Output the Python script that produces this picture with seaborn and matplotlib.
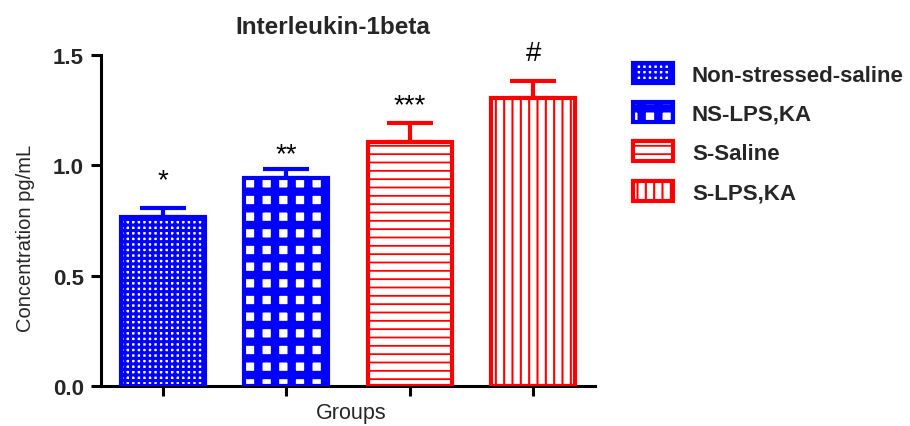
import matplotlib
matplotlib.use("Agg")
import matplotlib.pyplot as plt
from matplotlib.patches import Patch
import seaborn as sns
import pandas as pd


# --------------------------------------------------------------------------------------------------
# dados:

GROUPS = ["Non-stressed-saline", "NS-LPS,KA", "S-Saline", "S-LPS,KA"]
MEANS = [0.766, 0.942, 1.106, 1.305]
SEM = [0.041, 0.041, 0.084, 0.077]
MARKS = ["*", "**", "***", "#"]

COLORS = ["#0000ff", "#0000ff", "#ff0000", "#ff0000"]
HATCHES = ["+++", "+", "--", "||"]
HATCH_LW = [2.2, 6.0, 1.3, 1.5]
MARK_PAD = [0.092, 0.037, 0.052, 0.094]


sns.set_style("ticks")
plt.rcParams["font.family"] = ["Liberation Sans", "DejaVu Sans"]

df = pd.DataFrame({"group": GROUPS, "value": MEANS})

fig = plt.figure(figsize=(9.1, 4.27), dpi=100)
ax = fig.add_axes([101 / 910, 1 - 387 / 427, (595 - 101) / 910, (387 - 56) / 427])

sns.barplot(data=df, x="group", y="value", hue="group", palette=COLORS, order=GROUPS,
            hue_order=GROUPS, width=0.68, errorbar=None, legend=False, saturation=1, ax=ax)


def style_patch(p, color, hatch, hlw):
    p.set_facecolor("white")
    p.set_edgecolor(color)
    p.set_hatch(hatch)
    p.set_linewidth(3)
    if hasattr(p, "set_hatch_linewidth"):
        p.set_hatch_linewidth(hlw)


for p, c, h, hlw in zip(ax.patches, COLORS, HATCHES, HATCH_LW):
    style_patch(p, c, h, hlw)
    p.set_zorder(3)

# --- barras de erro só para cima
for i, (m, s, c) in enumerate(zip(MEANS, SEM, COLORS)):
    ax.errorbar(i, m, yerr=[[0], [s]], fmt="none", ecolor=c, elinewidth=3,
                capsize=16.5, capthick=3, zorder=2)

for i, (m, s, mk, pad) in enumerate(zip(MEANS, SEM, MARKS, MARK_PAD)):
    ax.text(i, m + s + pad, mk, ha="center", va="baseline", fontsize=20, color="black")

ax.set_xlim(-0.5, 3.5)
ax.set_ylim(0, 1.5)
ax.set_yticks([0, 0.5, 1.0, 1.5])
ax.set_yticklabels(["0.0", "0.5", "1.0", "1.5"])
ax.set_xticks(range(len(GROUPS)))
ax.set_xticklabels([])

for side in ["top", "right"]:
    ax.spines[side].set_visible(False)
for side in ["left", "bottom"]:
    ax.spines[side].set_linewidth(2.2)
    ax.spines[side].set_color("black")

ax.tick_params(axis="both", direction="out", length=7.5, width=2.2, color="black")
ax.tick_params(axis="y", pad=5, labelsize=16)
for lbl in ax.get_yticklabels():
    lbl.set_fontweight("bold")

ax.set_ylabel("Concentration pg/mL", fontsize=14.5)
ax.yaxis.set_label_coords(-0.133, 0.45)
ax.set_xlabel("Groups", fontsize=15.5)
ax.xaxis.set_label_coords(0.507, -0.048)

ax.set_title("Interleukin-1beta", fontsize=17.5, fontweight="bold", pad=16, x=0.470)

# --------------------------------------------------------------------------------------------------
# legenda

handles = []
for c, h, hlw in zip(COLORS, HATCHES, HATCH_LW):
    hp = Patch(label="x")
    style_patch(hp, c, h, hlw)
    handles.append(hp)

leg = fig.legend(handles, GROUPS, loc="upper left", bbox_to_anchor=(633 / 910, 1 - 64 / 427),
                 frameon=False, prop={"weight": "bold", "size": 16},
                 handlelength=1.8, handleheight=1.0, handletextpad=0.85, labelspacing=0.75,
                 borderpad=0, borderaxespad=0)

# o handler da legenda não copia a espessura do hachurado
for lp, hlw in zip(leg.get_patches(), HATCH_LW):
    if hasattr(lp, "set_hatch_linewidth"):
        lp.set_hatch_linewidth(hlw)

plt.savefig("out.png", dpi=100)
plt.close()
